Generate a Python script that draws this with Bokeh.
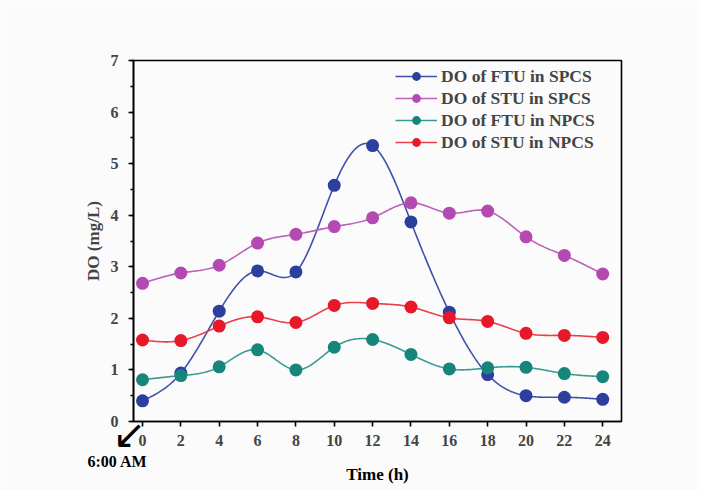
import numpy as np
from bokeh.plotting import figure
from bokeh.models import FixedTicker, Range1d, Legend, LegendItem, Title
from bokeh.embed import file_html
from bokeh.resources import INLINE

hours = [0, 2, 4, 6, 8, 10, 12, 14, 16, 18, 20, 22, 24]
ftu_spcs = [0.40, 0.94, 2.14, 2.92, 2.90, 4.58, 5.35, 3.87, 2.12, 0.91, 0.50, 0.47, 0.43]
stu_spcs = [2.68, 2.88, 3.03, 3.46, 3.63, 3.78, 3.95, 4.24, 4.04, 4.08, 3.58, 3.22, 2.86]
ftu_npcs = [0.81, 0.89, 1.06, 1.39, 1.00, 1.44, 1.59, 1.30, 1.02, 1.04, 1.05, 0.93, 0.87]
stu_npcs = [1.58, 1.57, 1.85, 2.03, 1.92, 2.25, 2.29, 2.22, 2.01, 1.94, 1.71, 1.67, 1.63]

names = ["DO of FTU in SPCS", "DO of STU in SPCS", "DO of FTU in NPCS", "DO of STU in NPCS"]
series = [ftu_spcs, stu_spcs, ftu_npcs, stu_npcs]
marker_colors = ["#2d3f9e", "#b549b2", "#16857a", "#e6182a"]
line_colors = ["#4050a8", "#bb60b8", "#3a9a90", "#e8404a"]

x_ticks = list(range(0, 25, 2))
y_ticks = list(range(0, 8))
y_minor = [i * 0.5 for i in range(0, 15)]

FONT = "Liberation Serif"


def natural_spline(x, y, n=400):
    x = np.asarray(x, float)
    y = np.asarray(y, float)
    m = len(x)
    h = np.diff(x)
    A = np.zeros((m, m))
    b = np.zeros(m)
    A[0, 0] = 1
    A[-1, -1] = 1
    for i in range(1, m - 1):
        A[i, i - 1] = h[i - 1]
        A[i, i] = 2 * (h[i - 1] + h[i])
        A[i, i + 1] = h[i]
        b[i] = 3 * ((y[i + 1] - y[i]) / h[i] - (y[i] - y[i - 1]) / h[i - 1])
    c = np.linalg.solve(A, b)
    xs = np.linspace(x[0], x[-1], n)
    idx = np.clip(np.searchsorted(x, xs, side="right") - 1, 0, m - 2)
    hi = h[idx]
    bi = (y[idx + 1] - y[idx]) / hi - hi * (2 * c[idx] + c[idx + 1]) / 3
    di = (c[idx + 1] - c[idx]) / (3 * hi)
    t = xs - x[idx]
    ys = y[idx] + bi * t + c[idx] * t ** 2 + di * t ** 3
    return xs, ys


p = figure(width=700, height=490, output_backend="svg", toolbar_location=None,
           x_range=Range1d(-0.47, 24.98), y_range=Range1d(0, 7),
           frame_width=488, frame_height=361,
           min_border_left=133, min_border_right=79, min_border_top=60, min_border_bottom=69)

p.background_fill_color = "#fbfbfb"
p.border_fill_color = "#fbfbfb"
p.outline_line_color = "black"
p.outline_line_width = 1.6
p.xgrid.visible = False
p.ygrid.visible = False

items = []
for name, ys, mc, lc in zip(names, series, marker_colors, line_colors):
    sx, sy = natural_spline(hours, ys)
    r1 = p.line(sx, sy, line_color=lc, line_width=1.6)
    r2 = p.scatter(hours, ys, size=13, fill_color=mc, line_color=mc, line_width=0)
    items.append(LegendItem(label=name, renderers=[r1, r2]))

legend = Legend(items=items, location=(262, 268), padding=0, margin=0, spacing=0,
                glyph_width=42, glyph_height=22, label_height=22,
                label_text_font=FONT, label_text_font_style="bold",
                label_text_font_size="17.5px", label_standoff=4,
                border_line_alpha=0, background_fill_alpha=0)
p.add_layout(legend)

for ax in (p.xaxis[0], p.yaxis[0]):
    ax.axis_line_width = 1.6
    ax.major_tick_line_width = 1.6
    ax.minor_tick_line_width = 1.4
    ax.major_tick_in = 0
    ax.major_tick_out = 5
    ax.minor_tick_in = 0
    ax.minor_tick_out = 3
    ax.major_label_text_font = FONT
    ax.major_label_text_font_style = "bold"
    ax.major_label_text_font_size = "16px"
    ax.axis_label_text_font = FONT
    ax.axis_label_text_font_style = "bold"
    ax.axis_label_text_font_size = "17px"

p.xaxis.ticker = FixedTicker(ticks=x_ticks)
p.yaxis.ticker = FixedTicker(ticks=y_ticks, minor_ticks=y_minor)
p.xaxis.major_label_standoff = 8
p.yaxis.major_label_standoff = 10
p.yaxis.axis_label = "DO (mg/L)"
p.yaxis.axis_label_standoff = 5

# texts below the x axis (annotations inside the plot are clipped to the frame)
arrow_t = Title(text="\u2199", align="left", offset=-21, vertical_align="top", standoff=-76,
                text_font="DejaVu Sans", text_font_style="normal", text_font_size="40px",
                text_color="black")
am_t = Title(text="6:00 AM", align="left", offset=-46, vertical_align="top", standoff=8,
             text_font=FONT, text_font_style="bold", text_font_size="16px", text_color="black")
time_t = Title(text="Time (h)", align="center", vertical_align="top", standoff=-22,
               text_font=FONT, text_font_style="bold", text_font_size="17px", text_color="black")
p.add_layout(arrow_t, "below")
p.add_layout(am_t, "below")
p.add_layout(time_t, "below")

open("out.html", "w").write(file_html(p, INLINE))
